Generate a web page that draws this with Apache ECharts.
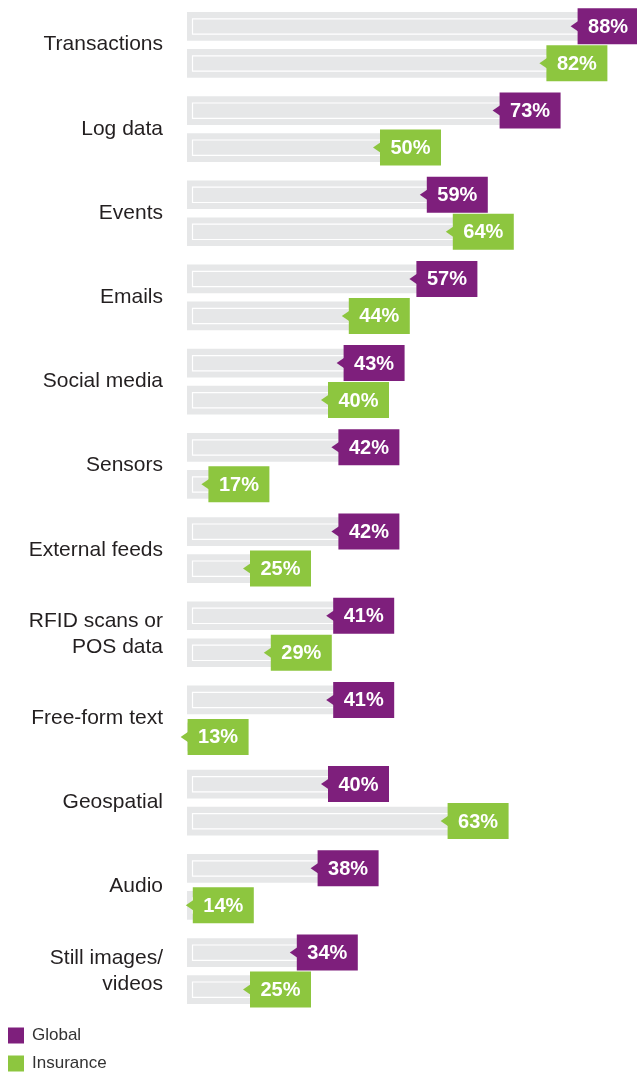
<!DOCTYPE html>
<html>
<head>
<meta charset="utf-8">
<script src="https://cdn.jsdelivr.net/npm/echarts@6/dist/echarts.min.js"></script>
<style>
html,body{margin:0;padding:0;background:#fff;}
#chart{width:637px;height:1072px;}
</style>
</head>
<body>
<div id="chart"></div>
<script>
var categories = ['Transactions','Log data','Events','Emails','Social media','Sensors','External feeds','RFID scans or\nPOS data','Free-form text','Geospatial','Audio','Still images/\nvideos'];
var globalValues = [88,73,59,57,43,42,42,41,41,40,38,34];
var insuranceValues = [82,50,64,44,40,17,25,29,13,63,14,25];
var seriesNames = ['Global','Insurance'];

var PURPLE = '#7E1F7C';
var GREEN = '#8DC63F';
var GREY = '#E6E7E8';
var FONT = "'Liberation Sans', Arial, Helvetica, sans-serif";

function makeRender(color, offset) {
  return function (params, api) {
    var v = api.value(0), c = api.value(1);
    var p = api.coord([v, c]);
    var o = api.coord([0, c]);
    var cy = p[1] + offset;
    var boxW = 61, boxH = 36;
    var boxRight = p[0] - 6;
    var boxLeft = boxRight - boxW;
    var children = [];
    var trackW = boxLeft + 4 - o[0];
    if (trackW > 0) {
      children.push({type:'rect', shape:{x:o[0], y:cy-14.3, width:trackW, height:28.7}, style:{fill:GREY}});
      var innerW = boxLeft - (o[0] + 5);
      if (innerW > 0) {
        children.push({type:'rect', shape:{x:o[0]+5.5, y:cy-7.5, width:innerW, height:15.3}, style:{fill:null, stroke:'#fff', lineWidth:1.2}});
      }
    }
    children.push({type:'polygon', shape:{points:[[boxLeft+1, cy-5.5],[boxLeft-7, cy],[boxLeft+1, cy+5.5]]}, style:{fill:color}});
    children.push({type:'rect', shape:{x:boxLeft, y:cy-boxH/2, width:boxW, height:boxH}, style:{fill:color}});
    children.push({type:'text', style:{text: v + '%', x: boxLeft + boxW/2, y: cy + 1, align:'center', verticalAlign:'middle', fill:'#fff', font:'bold 20px ' + FONT}});
    return {type:'group', children: children};
  };
}

var chart = echarts.init(document.getElementById('chart'), null, {renderer:'canvas'});
chart.setOption({
  animation: false,
  backgroundColor: '#fff',
  grid: {left: 187, right: 0, top: 2.6, height: 1010.4, containLabel: false, outerBoundsMode: 'none'},
  xAxis: {type:'value', min:0, max:86.54, show:false},
  yAxis: {
    type:'category', inverse:true, data: categories,
    axisLine:{show:false}, axisTick:{show:false}, splitLine:{show:false},
    axisLabel:{fontSize:21, color:'#231F20', fontFamily:FONT, margin:24, lineHeight:26, align:'right', padding:[0,0,6,0]}
  },
  legend: {
    orient:'vertical', left:8, top:1027, padding:0, itemWidth:16, itemHeight:16, itemGap:11, icon:'rect',
    textStyle:{fontSize:17, lineHeight:16, color:'#333', fontFamily:FONT, padding:[0,0,0,3]},
    data: seriesNames
  },
  series: [
    {name: seriesNames[0], type:'custom', itemStyle:{color:PURPLE}, renderItem: makeRender(PURPLE, -18.4),
     data: globalValues.map(function(v,i){return [v,i];}), encode:{x:0,y:1}},
    {name: seriesNames[1], type:'custom', itemStyle:{color:GREEN}, renderItem: makeRender(GREEN, 18.6),
     data: insuranceValues.map(function(v,i){return [v,i];}), encode:{x:0,y:1}}
  ]
});
</script>
</body>
</html>
